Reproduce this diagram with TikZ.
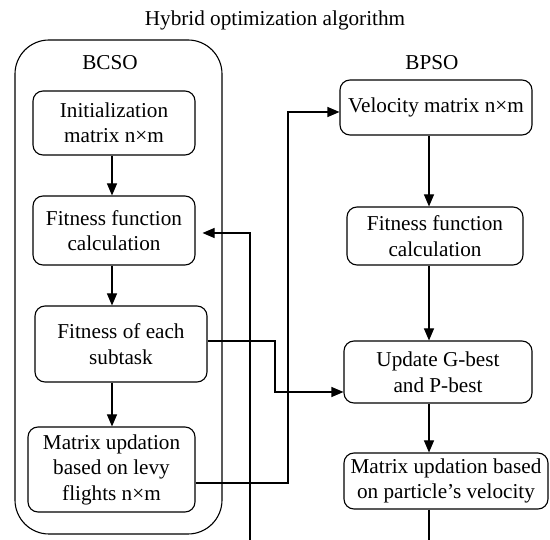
\documentclass[tikz,border=0pt]{standalone}
\usepackage{fontspec}
\setmainfont{Liberation Serif}
\usetikzlibrary{arrows.meta,calc}
\begin{document}
\begin{tikzpicture}[x=1pt,y=-1pt,
  every node/.style={font=\fontsize{21.2}{25.5}\selectfont},
  box/.style={draw,line width=1.1pt,rounded corners=10pt,align=center,inner sep=0pt},
  arr/.style={line width=1.1pt,-{Triangle[length=12pt,width=10pt]}},
  ln/.style={line width=1.1pt}]
\useasboundingbox (0,0) rectangle (550,540);
\node (title) at (275,20) {Hybrid optimization algorithm};
\draw[line width=1.1pt,rounded corners=34pt] (15,40) rectangle (222,534);
\node (bcso) at (110,63) {BCSO};
\node (bpso) at (432,63) {BPSO};
\coordinate (colL) at (112,0);
\coordinate (colR) at (429,0);
\node[box,minimum width=162pt,minimum height=64pt] (b1) at (114,123) {Initialization\\matrix n×m};
\node[box,minimum width=162pt,minimum height=69pt] (b2) at (114,230.5) {Fitness function\\calculation};
\node[box,minimum width=172pt,minimum height=76pt] (b3) at (121,344) {Fitness of each\\subtask};
\node[box,minimum width=167pt,minimum height=85pt] (b4) at (111.5,469.5) {Matrix updation\\based on levy\\flights n×m};
\node[box,minimum width=192pt,minimum height=55pt] (b5) at (436,107.5) {Velocity matrix n×m};
\node[box,minimum width=176pt,minimum height=58pt] (b6) at (435,236) {Fitness function\\calculation};
\node[box,minimum width=188pt,minimum height=62pt] (b7) at (438,372) {Update G-best\\and P-best};
\node[box,minimum width=204pt,minimum height=56pt] (b8) at (446,481) {Matrix updation based\\on particle’s velocity};
% left column arrows
\draw[arr] (b1.south -| colL) -- (b2.north -| colL);
\draw[arr] (b2.south -| colL) -- (b3.north -| colL);
\draw[arr] (b3.south -| colL) -- (b4.north -| colL);
% right column arrows
\draw[arr] (b5.south -| colR) -- (b6.north -| colR);
\draw[arr] (b6.south -| colR) -- (b7.north -| colR);
\draw[arr] (b7.south -| colR) -- (b8.north -| colR);
\coordinate (endR) at (429,540);
\draw[ln] (b8.south -| colR) -- (endR);
% cross connectors
\coordinate (bot) at (250,540);
\coordinate (fb) at (250,233);
\draw[arr,shorten >=7pt] (bot) -- (fb) -- (fb -| b2.east);
\coordinate (c3) at (275,392);
\draw[arr] ($(b3.east)+(0,-3)$) -| (c3) -- (c3 -| b7.west);
\coordinate (c4) at (288,112);
\draw[arr] ($(b4.east)+(0,13.5)$) -| (c4) -- (c4 -| b5.west);
\end{tikzpicture}
\end{document}
